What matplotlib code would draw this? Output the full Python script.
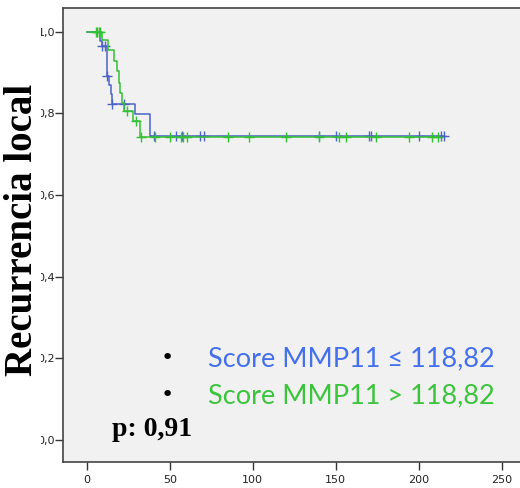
import numpy as np
import matplotlib
matplotlib.use("Agg")
import matplotlib.pyplot as plt
from matplotlib.patches import Rectangle

# Kaplan-Meier steps (tiempo en meses, supervivencia libre de recurrencia)
t_bajo = [0, 8, 9, 12, 13.5, 14.5, 15, 29, 38, 215]
s_bajo = [1.0, 0.976, 0.964, 0.890, 0.870, 0.846, 0.823, 0.797, 0.745, 0.745]
cens_bajo = [9.5, 11, 12, 15.5, 22.5, 40.5, 53.8, 57.5, 68.3, 70.7, 140.1,
             150.2, 170.3, 171.3, 200.3, 213.5, 215]

t_alto = [0, 9, 13, 16.5, 18, 19.3, 20.3, 21.3, 22.3, 28, 32, 212]
s_alto = [1.0, 0.980, 0.956, 0.927, 0.903, 0.874, 0.850, 0.825, 0.805, 0.780,
          0.741, 0.741]
cens_alto = [5.5, 6.4, 7.2, 8.0, 24, 29.5, 33, 41, 50, 56.8, 58.2, 60.2, 85.3,
             98, 120, 140.1, 152.2, 156.2, 174, 194.3, 207.8, 211.8]

xticks = [0, 50, 100, 150, 200, 250]
yticks = [0.0, 0.2, 0.4, 0.6, 0.8, 1.0]

azul = '#4b63c4'
verde = '#34c034'


def valor_en(t, s, x):
    # supervivencia en el instante x (escalón a la derecha)
    i = np.searchsorted(t, x, side='right') - 1
    return np.array(s)[i]


fig = plt.figure(figsize=(5.2, 4.88), dpi=100)
fig.patch.set_facecolor('white')
ax = fig.add_axes([63.3 / 520, 26 / 488, (525 - 63.3) / 520, (462 - 8.3) / 488])
ax.set_facecolor('#f1f1f1')

for t, s, c, col in [(t_bajo, s_bajo, cens_bajo, azul), (t_alto, s_alto, cens_alto, verde)]:
    ax.step(t, s, where='post', color=col, lw=1.1)
    ax.plot(c, valor_en(t, s, c), ls='none', marker='+', ms=7, mew=1.0, color=col)

ax.set_xlim(-14.1, 264)
ax.set_ylim(-0.054, 1.057)
ax.set_xticks(xticks)
ax.set_xticklabels([str(v) for v in xticks])
ax.set_yticks(yticks)
ax.set_yticklabels([f'{v:.1f}'.replace('.', ',') for v in yticks])
ax.tick_params(direction='out', length=5.8, width=1, color='#333333',
               labelsize=8, labelcolor='#222222')
ax.tick_params(axis='y', pad=0.2)
ax.tick_params(axis='x', pad=3.5)
for lado in ['left', 'bottom', 'top', 'right']:
    ax.spines[lado].set_color('#444444')
    ax.spines[lado].set_linewidth(1.2)

# leyenda y valor p
fig.text(167 / 520, 1 - 358 / 488, '•', fontsize=16, color='black',
         ha='center', va='center')
fig.text(167 / 520, 1 - 395 / 488, '•', fontsize=16, color='black',
         ha='center', va='center')
fig.text(208 / 520, 1 - 359 / 488, 'Score MMP11 ≤ 118,82', color='#4470ee',
         fontsize=19.5, family=['Lato', 'Noto Sans', 'DejaVu Sans'], va='center')
fig.text(208 / 520, 1 - 396 / 488, 'Score MMP11 > 118,82', color='#3cc43c',
         fontsize=19.5, family=['Lato', 'Noto Sans', 'DejaVu Sans'], va='center')
fig.text(112 / 520, 1 - 429 / 488, 'p: 0,91', fontsize=20, fontweight='bold',
         family='Liberation Serif', va='center', ha='left')

# etiqueta del eje y sobre fondo blanco
fig.patches.append(Rectangle((0, 0), 40.5 / 520, 1, transform=fig.transFigure,
                             facecolor='white', edgecolor='none', zorder=3))
fig.text(23 / 520, 1 - 230 / 488, 'Recurrencia local', rotation=90,
         fontsize=28, fontweight='bold', family='Liberation Serif',
         ha='center', va='center', zorder=4)

fig.savefig('out.png', dpi=100)
